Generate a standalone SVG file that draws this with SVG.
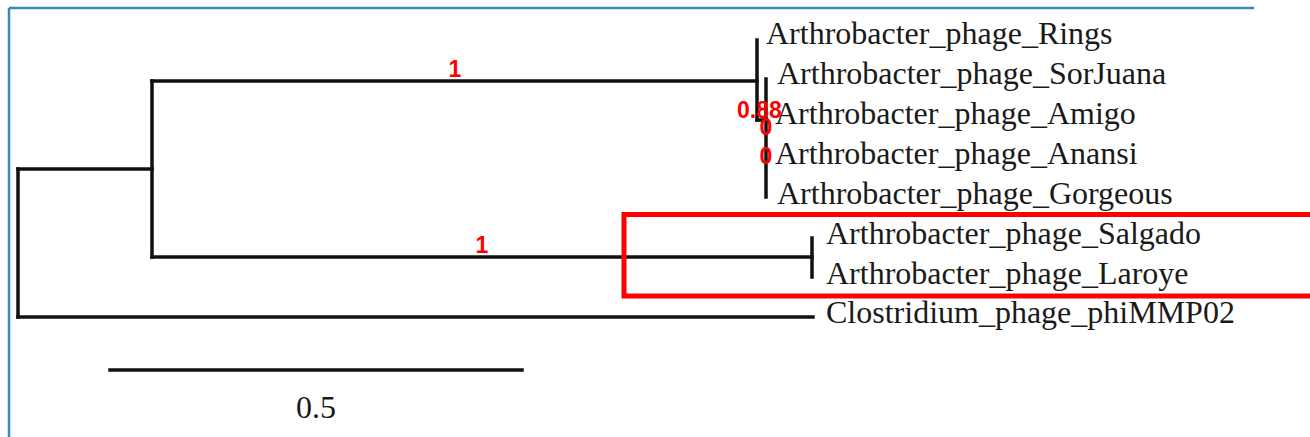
<svg xmlns="http://www.w3.org/2000/svg" width="1310" height="437" viewBox="0 0 1310 437">
<style>
.frame{stroke:#3a88b9;stroke-width:2.5;fill:none}
.br{stroke:#111;stroke-width:3.5;fill:none;stroke-linecap:square}
.tip{font-family:"Liberation Serif","Times New Roman",serif;font-size:32px;fill:#1a1a1a}
.sup{font-family:"Liberation Sans",Arial,sans-serif;font-weight:bold;font-size:23px;fill:#ff0000}
.hl{stroke:#ff0000;stroke-width:5;fill:none}
</style>
<rect width="1310" height="437" fill="#ffffff"/>
<g id="frame">
<line class="frame" x1="9" y1="8" x2="1254" y2="8"/>
<line class="frame" x1="9" y1="8" x2="9" y2="437"/>
</g>
<g id="connectors">
<line class="br" x1="18" y1="169" x2="18" y2="317"/>
<line class="br" x1="18" y1="169" x2="152" y2="169"/>
<line class="br" x1="152" y1="81" x2="152" y2="257"/>
<line class="br" x1="152" y1="81" x2="757" y2="81"/>
<line class="br" x1="152" y1="257" x2="812" y2="257"/>
<line class="br" x1="812" y1="238" x2="812" y2="277"/>
<line class="br" x1="18" y1="317" x2="813" y2="317"/>
<line class="br" x1="757" y1="40" x2="757" y2="120"/>
<line class="br" x1="757" y1="120" x2="766" y2="120"/>
<line class="br" x1="766" y1="79" x2="766" y2="197"/>
</g>
<g id="node-rings"><text class="tip" x="766" y="44">Arthrobacter_phage_Rings</text></g>
<g id="node-sorjuana"><text class="tip" x="777" y="84">Arthrobacter_phage_SorJuana</text></g>
<g id="node-amigo"><text class="tip" x="775" y="124">Arthrobacter_phage_Amigo</text></g>
<g id="node-anansi"><text class="tip" x="775" y="164">Arthrobacter_phage_Anansi</text></g>
<g id="node-gorgeous"><text class="tip" x="777" y="204">Arthrobacter_phage_Gorgeous</text></g>
<g id="node-salgado"><text class="tip" x="826" y="244">Arthrobacter_phage_Salgado</text></g>
<g id="node-laroye"><text class="tip" x="826" y="284">Arthrobacter_phage_Laroye</text></g>
<g id="node-clostridium"><text class="tip" x="826" y="323">Clostridium_phage_phiMMP02</text></g>
<g id="support">
<text class="sup" x="455" y="77" text-anchor="middle">1</text>
<text class="sup" x="482" y="253" text-anchor="middle">1</text>
<text class="sup" x="737" y="118">0.88</text>
<text class="sup" x="766" y="135" text-anchor="middle">0</text>
<text class="sup" x="766" y="164" text-anchor="middle">0</text>
</g>
<g id="highlight"><rect class="hl" x="624" y="214.5" width="800" height="81.5"/></g>
<g id="scalebar">
<line class="br" x1="110" y1="370" x2="522" y2="370"/>
<text class="tip" x="316" y="418" text-anchor="middle">0.5</text>
</g>
</svg>
